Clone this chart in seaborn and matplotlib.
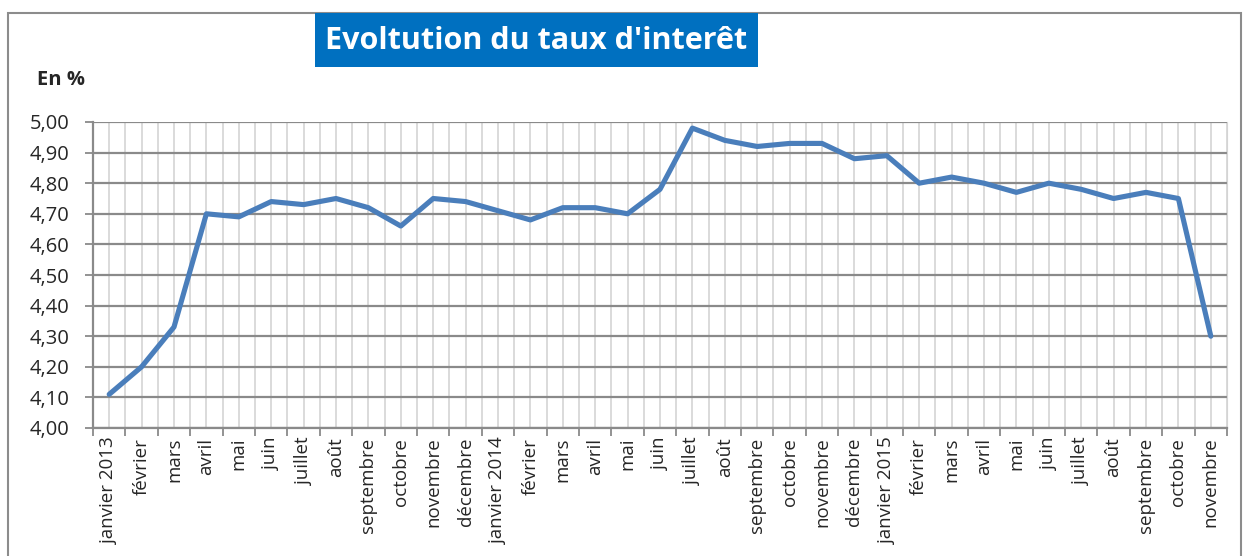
import numpy as np
import pandas as pd
import matplotlib
import matplotlib.pyplot as plt
import seaborn as sns
from matplotlib.patches import Rectangle
from matplotlib.ticker import FixedLocator, FuncFormatter

matplotlib.use('Agg')

# month labels, janvier 2013 -> novembre 2015
months = ["janvier 2013", "février", "mars", "avril", "mai", "juin", "juillet",
          "août", "septembre", "octobre", "novembre", "décembre",
          "janvier 2014", "février", "mars", "avril", "mai", "juin", "juillet",
          "août", "septembre", "octobre", "novembre", "décembre",
          "janvier 2015", "février", "mars", "avril", "mai", "juin", "juillet",
          "août", "septembre", "octobre", "novembre"]

# interest rate in %
rates = [4.11, 4.20, 4.33, 4.70, 4.69, 4.74, 4.73, 4.75, 4.72, 4.66, 4.75, 4.74,
         4.71, 4.68, 4.72, 4.72, 4.70, 4.78, 4.98, 4.94, 4.92, 4.93, 4.93, 4.88,
         4.89, 4.80, 4.82, 4.80, 4.77, 4.80, 4.78, 4.75, 4.77, 4.75, 4.30]

title = "Evoltution du taux d'interêt"
unit_label = "En %"

df = pd.DataFrame({"pos": np.arange(len(months)), "taux": rates})

sns.set_style("white")
plt.rcParams['font.family'] = ['Open Sans', 'DejaVu Sans']

W, H = 1243, 556
fig = plt.figure(figsize=(W / 100, H / 100), dpi=100)
ax = fig.add_axes([93 / W, 1 - 428 / H, (1227 - 93) / W, (428 - 122) / H])

# outer frame of the chart object
fig.patches.append(Rectangle((8 / W, -0.05), (1241 - 8) / W, 1.05 - 13 / H,
                             transform=fig.transFigure, fill=False,
                             edgecolor='#8c8c8c', linewidth=1.5))

n = len(months)
ax.set_xlim(-0.5, n - 0.5)
ax.set_ylim(4.0, 5.0)

# light vertical grid at every half category, ticks only at boundaries
for xv in np.arange(-0.5, n, 0.5):
    ax.axvline(xv, color='#d4d4d4', linewidth=1.2, zorder=0)
yt = np.round(np.arange(4.0, 5.01, 0.1), 2)
for yv in yt:
    ax.axhline(yv, color='#8a8a8a', linewidth=1.6, zorder=1)

sns.lineplot(data=df, x="pos", y="taux", ax=ax, color='#4a7ebb',
             linewidth=3.7, zorder=3, legend=False)

ax.set_yticks(yt)
ax.yaxis.set_major_formatter(FuncFormatter(lambda v, p: f"{v:.2f}".replace('.', ',')))
ax.tick_params(axis='y', direction='out', length=6, width=1.3, color='#8a8a8a',
               labelsize=14.5, pad=11, left=True)

ax.set_xticks(np.arange(n))
ax.set_xticklabels(months, rotation=90, va='top', ha='center')
ax.xaxis.set_minor_locator(FixedLocator(np.arange(-0.5, n, 1.0)))
ax.tick_params(axis='x', which='major', length=0, labelsize=13.5, pad=7)
ax.tick_params(axis='x', which='minor', direction='out', length=6, width=1.3,
               color='#8a8a8a', bottom=True)

ax.set_xlabel("")
ax.set_ylabel("")
for side in ['left', 'bottom']:
    ax.spines[side].set_color('#8a8a8a')
    ax.spines[side].set_linewidth(1.6)
ax.spines['top'].set_visible(False)
ax.spines['right'].set_color('#d4d4d4')

# title box
fig.patches.append(Rectangle((315 / W, 1 - 67 / H), 443 / W, 54 / H,
                             transform=fig.transFigure, facecolor='#0070c0',
                             edgecolor='none'))
fig.text(536.5 / W, 1 - 41 / H, title, color='white', fontsize=22,
         fontweight='bold', ha='center', va='center')

fig.text(37 / W, 1 - 80 / H, unit_label, fontsize=14.5, fontweight='bold',
         ha='left', va='center')

fig.savefig("out.png", dpi=100)
